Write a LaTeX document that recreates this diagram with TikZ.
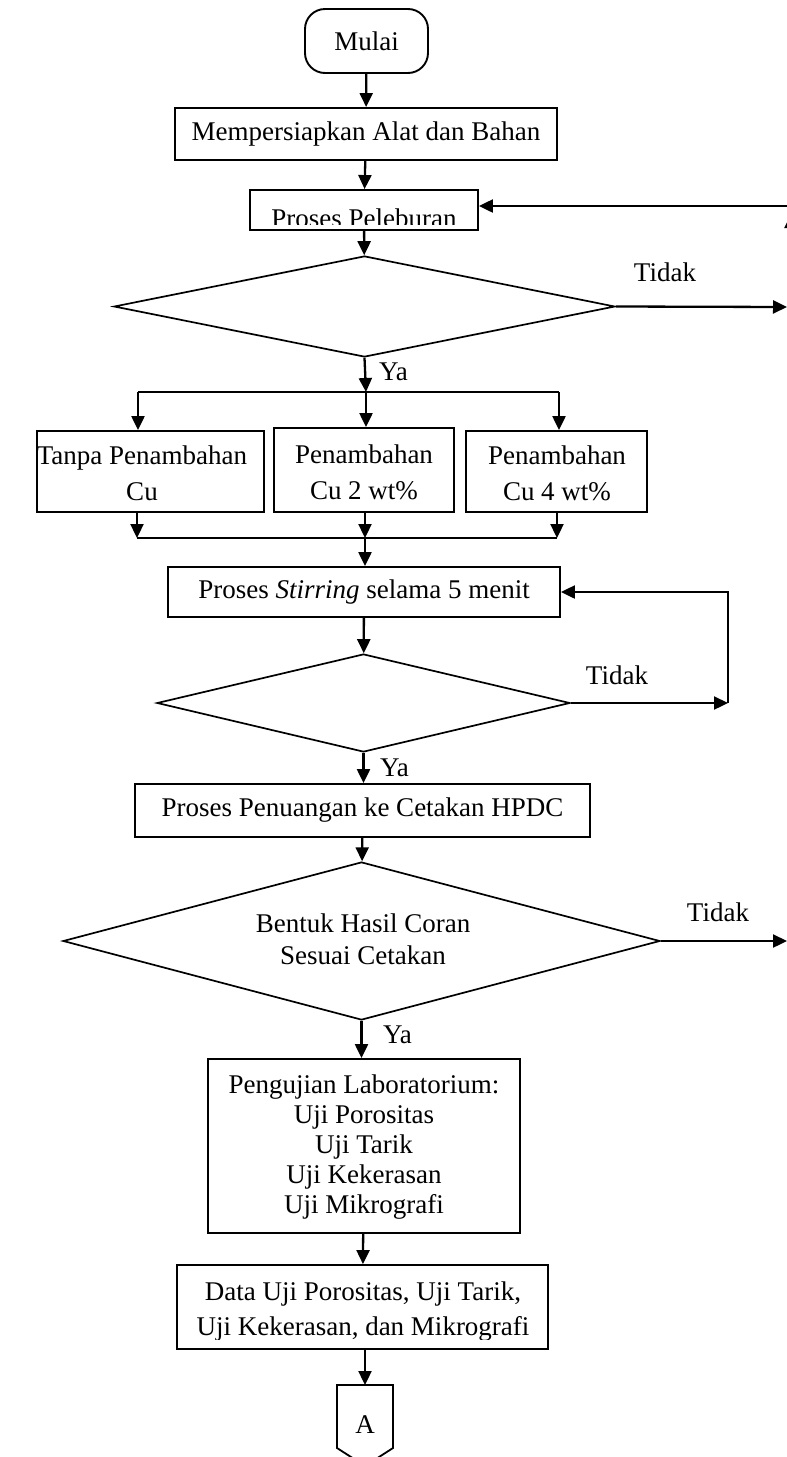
\documentclass[tikz,border=0pt]{standalone}
\usepackage{fontspec}
\setmainfont{Liberation Serif}
\usetikzlibrary{arrows.meta,shapes.geometric}
\begin{document}
\begin{tikzpicture}[x=1pt,y=-1pt,
  every node/.style={font=\fontsize{27}{30}\selectfont, inner sep=0pt},
  box/.style={draw, line width=1.9pt, rectangle},
  dia/.style={draw, line width=1.7pt, diamond},
  two/.style={align=center, font=\fontsize{27}{36}\selectfont},
  arr/.style={line width=2.3pt, -{Triangle[length=14pt,width=13pt]}},
  ln/.style={line width=2.1pt}]
\useasboundingbox (0,0) rectangle (787,1457);
% nodes
\node[box, rounded corners=20pt, minimum width=123pt, minimum height=64pt] (start) at (366.5,41) {Mulai};
\node[box, minimum width=382pt, minimum height=52pt] (prep) at (366,134) {Mempersiapkan Alat dan Bahan};
\node[box, minimum width=228pt, minimum height=40pt] (melt) at (364,210) {};
\coordinate (mclip) at (477,224);
\begin{scope}
\clip (melt.north west) rectangle (mclip);
\node[anchor=base] (meltt) at (364,227) {Proses Peleburan};
\end{scope}
\node[dia, minimum width=501pt, minimum height=101pt] (d1) at (364.5,306.5) {};
\node (t1) at (665,272) {Tidak};
\node[anchor=west] (y1) at (379,372) {Ya};
\coordinate (br) at (366,392);
\coordinate (brL) at (138,392);
\coordinate (brR) at (559,392);
\node[box, minimum width=227pt, minimum height=81pt] (b1) at (150.5,471.5) {};
\node[two] (b1t) at (142,473) {Tanpa Penambahan\\Cu};
\node[box, minimum width=180pt, minimum height=84pt] (b2) at (364,470) {};
\node[two] (b2t) at (364,472) {Penambahan\\Cu 2 wt\%};
\node[box, minimum width=181pt, minimum height=81pt] (b3) at (556.5,471.5) {};
\node[two] (b3t) at (557,473) {Penambahan\\Cu 4 wt\%};
\coordinate (m1) at (137,538);
\coordinate (m2) at (365,538);
\coordinate (m3) at (557,538);
\node[box, minimum width=392pt, minimum height=50pt] (stir) at (364,592) {Proses \textit{Stirring} selama 5 menit};
\node[dia, minimum width=413pt, minimum height=98pt] (d2) at (363.5,703) {};
\node (t2) at (617,675) {Tidak};
\coordinate (c2) at (728,703);
\node[anchor=west] (y2) at (380,768) {Ya};
\node[box, minimum width=455pt, minimum height=53pt] (hpdc) at (362.5,810.5) {Proses Penuangan ke Cetakan HPDC};
\node[dia, minimum width=597pt, minimum height=158pt] (d3) at (361.5,941) {};
\node[align=center, font=\fontsize{27}{32}\selectfont] (d3t) at (363,939) {Bentuk Hasil Coran\\Sesuai Cetakan};
\node (t3) at (718,912) {Tidak};
\coordinate (c3) at (787,941);
\node[anchor=west] (y3) at (383,1035) {Ya};
\node[box, minimum width=312pt, minimum height=174pt] (test) at (364,1146) {};
\node[align=center] (testt) at (364,1147) {Pengujian Laboratorium:\\Uji Porositas\\Uji Tarik\\Uji Kekerasan\\Uji Mikrografi};
\node[box, minimum width=371pt, minimum height=84pt] (data) at (362.5,1307) {};
\coordinate (dclip) at (547,1339);
\begin{scope}
\clip (data.north west) rectangle (dclip);
\node[align=center, font=\fontsize{27}{35}\selectfont] (datat) at (363,1312) {Data Uji Porositas, Uji Tarik,\\Uji Kekerasan, dan Mikrografi};
\end{scope}
% off-page connector
\coordinate (p1) at (337,1385);
\coordinate (p2) at (393,1385);
\coordinate (p3) at (393,1448);
\coordinate (p4) at (365,1466);
\coordinate (p5) at (337,1448);
\coordinate (ptop) at (365,1385);
\draw[line width=1.8pt] (p1) -- (p2) -- (p3) -- (p4) -- (p5) -- cycle;
\node (offA) at (365,1425) {A};
% right-side return
\coordinate (r0) at (791,330);
\coordinate (r2) at (791,214);
\coordinate (r1) at (795,206);
\coordinate (c1) at (787,307);
% connectors
\draw[arr] (start) -- (prep);
\draw[arr] (prep) -- (melt);
\draw[arr] (melt) -- (d1);
\draw[arr] (d1.east) -- (c1);
\draw[arr] (r0) -- (r2);
\draw[arr] (r1) -- (melt.east |- r1);
\draw[arr] (d1.south) -- (br);
\draw[ln] (brL) -- (brR);
\draw[arr] (brL) -- (b1.north -| brL);
\draw[arr] (br) -- (b2.north -| br);
\draw[arr] (brR) -- (b3.north -| brR);
\draw[arr] (b1.south -| m1) -- (m1);
\draw[arr] (b2.south -| m2) -- (m2);
\draw[arr] (b3.south -| m3) -- (m3);
\draw[ln] (m1) -- (m3);
\draw[arr] (m2) -- (stir.north -| m2);
\draw[arr] (stir) -- (d2);
\draw[arr] (d2.east) -- (c2);
\draw[arr] (c2) |- (stir.east);
\draw[arr] (d2.south) -- (hpdc.north -| d2.south);
\draw[arr] (hpdc) -- (d3);
\draw[arr] (d3.east) -- (c3);
\draw[arr] (d3.south) -- (test.north -| d3.south);
\draw[arr] (test) -- (data);
\draw[arr] (data.south -| ptop) -- (ptop);
\end{tikzpicture}
\end{document}
